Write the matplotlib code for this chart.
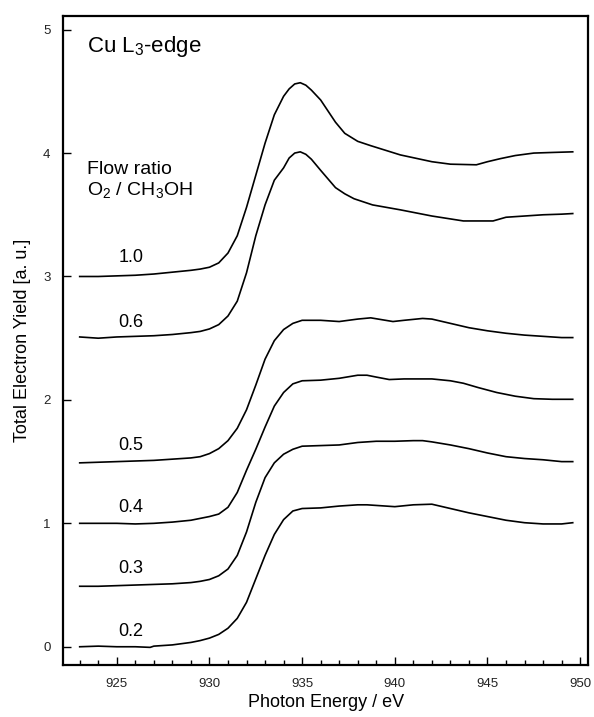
import matplotlib
matplotlib.use("Agg")
import matplotlib.pyplot as plt
from matplotlib.ticker import MultipleLocator

plt.rcParams['font.family'] = ['Liberation Sans', 'DejaVu Sans']
plt.rcParams['mathtext.fontset'] = 'custom'
plt.rcParams['mathtext.rm'] = 'Liberation Sans'

# flow ratio O2/CH3OH -> spectrum (photon energy in eV, yield in a.u.)
e_02 = [923, 924, 925, 926, 926.8, 927, 928, 929, 929.5, 930, 930.5, 931, 931.5, 932, 932.5, 933,
        933.5, 934, 934.5, 935, 936, 937, 938, 938.5, 939, 940, 941, 942, 943, 944, 945, 946, 947,
        948, 949, 949.6]
y_02 = [0.0, 0.005, 0.0, 0.0, -0.005, 0.005, 0.015, 0.035, 0.05, 0.07, 0.10, 0.15, 0.23, 0.36, 0.55,
        0.74, 0.91, 1.03, 1.10, 1.12, 1.125, 1.14, 1.15, 1.15, 1.145, 1.135, 1.15, 1.155, 1.12, 1.085,
        1.055, 1.025, 1.005, 0.995, 0.995, 1.005]

e_03 = [923, 924, 925, 926, 927, 928, 929, 929.5, 930, 930.5, 931, 931.5, 932, 932.5, 933, 933.5,
        934, 934.5, 935, 936, 937, 938, 939, 940, 941, 941.5, 942, 943, 944, 945, 946, 947, 948, 949,
        949.6]
y_03 = [0.49, 0.49, 0.495, 0.5, 0.505, 0.51, 0.52, 0.53, 0.545, 0.575, 0.63, 0.74, 0.93, 1.17, 1.37,
        1.49, 1.56, 1.60, 1.625, 1.63, 1.635, 1.655, 1.665, 1.665, 1.67, 1.67, 1.66, 1.635, 1.605,
        1.57, 1.54, 1.525, 1.515, 1.50, 1.50]

e_04 = [923, 924, 925, 926, 927, 928, 929, 929.5, 930, 930.5, 931, 931.5, 932, 932.5, 933, 933.5,
        934, 934.5, 935, 936, 937, 938, 938.5, 939, 939.7, 940.5, 941, 942, 943, 943.7, 944.5, 945.5,
        946.5, 947.5, 948.5, 949.6]
y_04 = [1.0, 1.0, 1.0, 0.995, 1.0, 1.01, 1.025, 1.04, 1.055, 1.075, 1.13, 1.25, 1.43, 1.6, 1.78,
        1.95, 2.06, 2.13, 2.155, 2.16, 2.175, 2.2, 2.2, 2.185, 2.165, 2.17, 2.17, 2.17, 2.155, 2.135,
        2.1, 2.06, 2.03, 2.01, 2.005, 2.005]

e_05 = [923, 924, 925, 926, 927, 928, 929, 929.5, 930, 930.5, 931, 931.5, 932, 932.5, 933, 933.5,
        934, 934.5, 935, 936, 937, 938, 938.7, 939.3, 939.9, 940.5, 941.5, 942, 943, 944, 945, 946,
        947, 948, 949, 949.6]
y_05 = [1.49, 1.495, 1.50, 1.505, 1.51, 1.52, 1.53, 1.54, 1.565, 1.605, 1.67, 1.77, 1.92, 2.12, 2.33,
        2.48, 2.57, 2.62, 2.645, 2.645, 2.635, 2.655, 2.665, 2.65, 2.635, 2.645, 2.66, 2.655, 2.62,
        2.585, 2.56, 2.54, 2.525, 2.515, 2.505, 2.505]

e_06 = [923, 924, 925, 926, 927, 928, 929, 929.5, 930, 930.5, 931, 931.5, 932, 932.5, 933, 933.5,
        934, 934.3, 934.6, 934.9, 935.2, 935.5, 936, 936.4, 936.8, 937.3, 937.8, 938.8, 940.3, 942,
        943.7, 945.3, 946, 947, 948, 949, 949.6]
y_06 = [2.51, 2.5, 2.51, 2.515, 2.52, 2.53, 2.545, 2.555, 2.575, 2.61, 2.68, 2.80, 3.03, 3.33, 3.58,
        3.78, 3.88, 3.96, 4.0, 4.01, 3.99, 3.95, 3.86, 3.79, 3.72, 3.67, 3.63, 3.58, 3.54, 3.49, 3.45,
        3.45, 3.48, 3.49, 3.5, 3.505, 3.51]

e_10 = [923, 924, 925, 926, 927, 928, 929, 929.5, 930, 930.5, 931, 931.5, 932, 932.5, 933, 933.5,
        934, 934.3, 934.6, 934.9, 935.2, 935.5, 936, 936.4, 936.8, 937.3, 938, 938.7, 940.3, 942, 943,
        944.4, 945, 945.7, 946.5, 947.5, 948.5, 949.6]
y_10 = [3.0, 3.0, 3.005, 3.01, 3.02, 3.035, 3.05, 3.06, 3.075, 3.11, 3.19, 3.33, 3.56, 3.82, 4.08,
        4.31, 4.46, 4.52, 4.56, 4.57, 4.55, 4.51, 4.43, 4.34, 4.25, 4.16, 4.095, 4.06, 3.985, 3.93,
        3.91, 3.905, 3.93, 3.955, 3.98, 4.0, 4.005, 4.01]

ratios = ["0.2", "0.3", "0.4", "0.5", "0.6", "1.0"]
energies = [e_02, e_03, e_04, e_05, e_06, e_10]
yields = [y_02, y_03, y_04, y_05, y_06, y_10]
label_y = [0.12, 0.63, 1.13, 1.63, 2.63, 3.15]

fig = plt.figure(figsize=(5.94, 7.17), dpi=100)
ax = fig.add_axes([0.1061, 0.0725, 0.884, 0.9056])

for r, e, y, ly in zip(ratios, energies, yields, label_y):
    ax.plot(e, y, color='black', lw=1.2, solid_joinstyle='round')
    ax.text(925.75, ly, r, fontsize=13, ha='center', va='center')

ax.text(923.4, 4.86, r'Cu L$_\mathregular{3}$-edge', fontsize=16, ha='left', va='center')
ax.text(923.4, 3.87, 'Flow ratio', fontsize=14, ha='left', va='center')
ax.text(923.4, 3.69, r'O$_\mathregular{2}$ / CH$_\mathregular{3}$OH', fontsize=14, ha='left', va='center')

ax.set_xlim(922.1, 950.43)
ax.set_ylim(-0.148, 5.113)
ax.xaxis.set_major_locator(MultipleLocator(5))
ax.xaxis.set_minor_locator(MultipleLocator(1))
ax.yaxis.set_major_locator(MultipleLocator(1))

ax.tick_params(axis='both', which='major', direction='in', length=6, width=1, labelsize=9.5,
               pad=9, labelcolor='#222222')
ax.tick_params(axis='x', which='minor', direction='in', length=3.5, width=1)
ax.tick_params(top=False, right=False, which='both')
for s in ax.spines.values():
    s.set_linewidth(1.6)

ax.set_xlabel('Photon Energy / eV', fontsize=13, labelpad=3)
ax.set_ylabel('Total Electron Yield [a. u.]', fontsize=13, labelpad=9)

fig.savefig('out.png', dpi=100)
